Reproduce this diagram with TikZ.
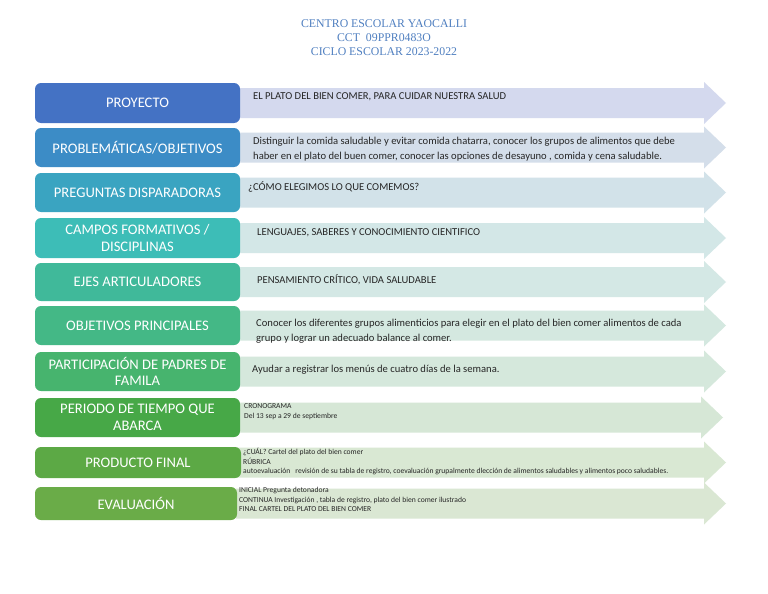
\documentclass[tikz,border=0pt]{standalone}
\usepackage{fontspec}
\setmainfont{Carlito}
\newfontfamily\titlefont{Liberation Serif}
\definecolor{ttl}{HTML}{4F7FC0}
\definecolor{bA}{HTML}{4472C4}
\definecolor{bB}{HTML}{3C8CC6}
\definecolor{bC}{HTML}{3AA4C1}
\definecolor{bD}{HTML}{3DBDB7}
\definecolor{bE}{HTML}{40B99A}
\definecolor{bF}{HTML}{44B886}
\definecolor{bG}{HTML}{47B46E}
\definecolor{bH}{HTML}{47A847}
\definecolor{bI}{HTML}{5CA945}
\definecolor{bJ}{HTML}{6AAC48}
\definecolor{aA}{HTML}{D4D9EE}
\definecolor{aB}{HTML}{D4DEEA}
\definecolor{aC}{HTML}{D2E2E9}
\definecolor{aD}{HTML}{D3E7E7}
\definecolor{aE}{HTML}{D4E8E5}
\definecolor{aF}{HTML}{D4E8E0}
\definecolor{aG}{HTML}{D5E8DC}
\definecolor{aH}{HTML}{D6E7D6}
\definecolor{aI}{HTML}{D9E8D3}
\definecolor{aJ}{HTML}{DAE7D3}
\newcommand{\rowarrow}[3]{%
  \fill[#2] (236,{#1-15}) -- (#3-22,{#1-15}) -- (#3-22,{#1-21}) -- (#3,#1)
    -- (#3-22,{#1+21}) -- (#3-22,{#1+15}) -- (236,{#1+15}) -- cycle;}
\begin{document}
\begin{tikzpicture}[x=1pt,y=-1pt,
  lbl/.style={rectangle, rounded corners=6pt, minimum width=205pt, text=white,
    font=\fontsize{14.6}{16.5}\selectfont, align=center, inner sep=0pt},
  txt/.style={anchor=west, inner sep=0pt, align=left,
    font=\fontsize{10.6}{15}\selectfont, text=black!85},
  small/.style={anchor=west, inner sep=0pt, align=left,
    font=\fontsize{7.6}{9.5}\selectfont, text=black!85}]
\useasboundingbox (0,0) rectangle (768,594);
\fill[white] (0,0) rectangle (768,594);

\node[font=\titlefont\fontsize{11.8}{14}\selectfont, text=ttl, align=center] (title) at (384,38)
  {CENTRO ESCOLAR YAOCALLI\\CCT\ \ 09PPR0483O\\CICLO ESCOLAR 2023-2022};

% arrows
\rowarrow{103}{aA}{726}
\rowarrow{147.5}{aB}{726}
\rowarrow{192.5}{aC}{726}
\rowarrow{238}{aD}{726}
\rowarrow{282}{aE}{726}
\rowarrow{325.5}{aF}{726}
\rowarrow{371.5}{aG}{726}
\rowarrow{417.5}{aH}{723}
\rowarrow{462.5}{aI}{726}
\rowarrow{503.5}{aJ}{726}

% boxes
\node[lbl, fill=bA, minimum height=40pt] (b1) at (137.5,103) {PROYECTO};
\node[lbl, fill=bB, minimum height=39pt] (b2) at (137.5,147.5) {PROBLEMÁTICAS/OBJETIVOS};
\node[lbl, fill=bC, minimum height=39pt] (b3) at (137.5,192.5) {PREGUNTAS DISPARADORAS};
\node[lbl, fill=bD, minimum height=40pt] (b4) at (137.5,238) {CAMPOS FORMATIVOS /\\DISCIPLINAS};
\node[lbl, fill=bE, minimum height=38pt] (b5) at (137.5,282) {EJES ARTICULADORES};
\node[lbl, fill=bF, minimum height=39pt] (b6) at (137.5,325.5) {OBJETIVOS PRINCIPALES};
\node[lbl, fill=bG, minimum height=39pt] (b7) at (137.5,371.5) {PARTICIPACIÓN DE PADRES DE\\FAMILA};
\node[lbl, fill=bH, minimum height=39pt] (b8) at (137.5,417.5) {PERIODO DE TIEMPO QUE\\ABARCA};
\node[lbl, fill=bI, minimum height=31pt, minimum width=206pt] (b9) at (138,462.5) {PRODUCTO FINAL};
\node[lbl, fill=bJ, minimum height=33pt, minimum width=202pt] (b10) at (136,503.5) {EVALUACIÓN};

% texts
\node[txt] (t1) at (253,97) {EL PLATO DEL BIEN COMER, PARA CUIDAR NUESTRA SALUD};
\node[txt] (t2) at (253,149.5) {Distinguir la comida saludable y evitar comida chatarra, conocer los grupos de alimentos que debe\\haber en el plato del buen comer, conocer las opciones de desayuno , comida y cena saludable.};
\node[txt] (t3) at (248,187) {¿CÓMO ELEGIMOS LO QUE COMEMOS?};
\node[txt] (t4) at (257,233) {LENGUAJES, SABERES Y CONOCIMIENTO CIENTIFICO};
\node[txt] (t5) at (257,280) {PENSAMIENTO CRÍTICO, VIDA SALUDABLE};
\node[txt] (t6) at (256,331.5) {Conocer los diferentes grupos alimenticios para elegir en el plato del bien comer alimentos de cada\\grupo y lograr un adecuado balance al comer.};
\node[txt] (t7) at (252,370) {Ayudar a registrar los menús de cuatro días de la semana.};
\node[small] (t8) at (244,411.5) {CRONOGRAMA\\Del 13 sep a 29 de septiembre};
\node[small] (t9) at (243,461.5) {¿CUÁL? Cartel del plato del bien comer\\RÚBRICA\\autoevaluación\ \ \ revisión de su tabla de registro, coevaluación grupalmente dlección de alimentos saludables y alimentos poco saludables.};
\node[small] (t10) at (239,499.5) {INICIAL Pregunta detonadora\\CONTINUA Investigación , tabla de registro, plato del bien comer ilustrado\\FINAL CARTEL DEL PLATO DEL BIEN COMER};
\end{tikzpicture}
\end{document}
